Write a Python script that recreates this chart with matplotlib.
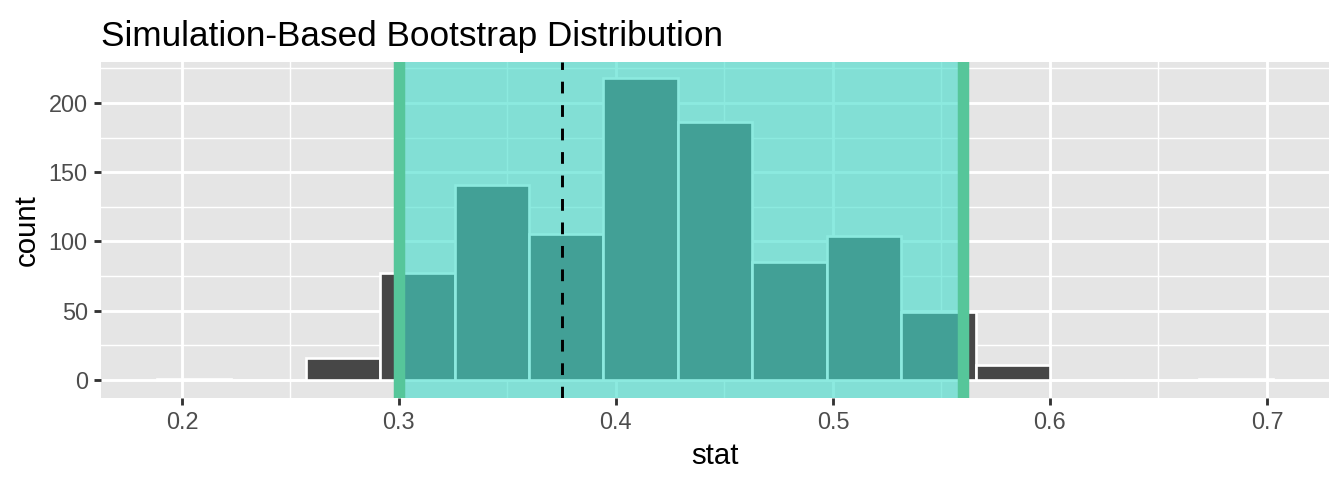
import numpy as np
import matplotlib.pyplot as plt

plt.rcParams['font.family'] = ['Liberation Sans', 'DejaVu Sans']

# histogram (15 bins)
bin_edges = np.linspace(0.1885, 0.7029, 16)
counts = [1, 0, 16, 77, 141, 105, 218, 186, 85, 104, 49, 11, 0, 0, 1]
ci_low, ci_high = 0.3, 0.5599
point_est = 0.3751

xticks = [0.2, 0.3, 0.4, 0.5, 0.6, 0.7]
yticks = [0, 50, 100, 150, 200]

fig = plt.figure(figsize=(7, 2.5), dpi=192)
ax = fig.add_axes([0.0751, 0.171, 0.9137, 0.700])
ax.set_facecolor('#E5E5E5')

centers = (bin_edges[:-1] + bin_edges[1:]) / 2
ax.hist(centers, bins=bin_edges, weights=counts, color='#474747',
        edgecolor='white', linewidth=1.0, zorder=2)

ax.axvspan(ci_low, ci_high, color='#40DCCB', alpha=0.6, lw=0, zorder=3)
for v in (ci_low, ci_high):
    ax.axvline(v, color='#56C69A', lw=4.3, zorder=4)
ax.axvline(point_est, color='black', lw=1.1, ls=(0, (4, 4)), zorder=5)

ax.set_xlim(0.1627, 0.7286)
ax.set_ylim(-13, 229.6)
ax.set_xticks(xticks)
ax.set_xticklabels([str(t) for t in xticks])
ax.set_yticks(yticks)
ax.set_xticks([0.25, 0.35, 0.45, 0.55, 0.65], minor=True)
ax.set_yticks([25, 75, 125, 175, 225], minor=True)
ax.grid(which='major', color='white', lw=1.07, zorder=1)
ax.grid(which='minor', color='white', lw=0.53, zorder=1)
ax.set_axisbelow(True)
for s in ax.spines.values():
    s.set_visible(False)
ax.tick_params(which='major', length=2.75, width=1.07, color='#333333',
               labelcolor='#4D4D4D', labelsize=8.8, pad=2.2)
ax.tick_params(which='minor', length=0)

ax.set_xlabel('stat', fontsize=11, labelpad=3)
ax.set_ylabel('count', fontsize=11, labelpad=3)
ax.set_title('Simulation-Based Bootstrap Distribution', fontsize=13.2,
             loc='left', pad=6)

fig.savefig('out.png', dpi=192)
